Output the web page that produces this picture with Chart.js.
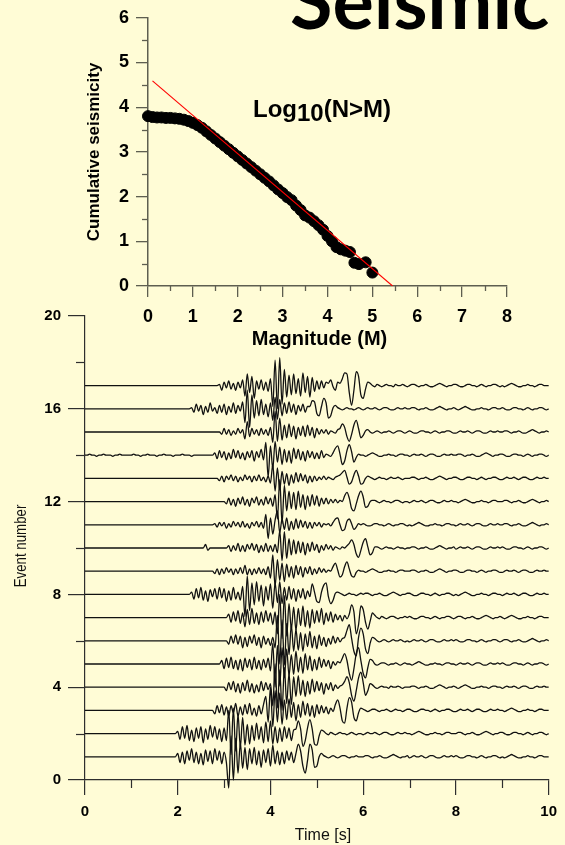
<!DOCTYPE html>
<html>
<head>
<meta charset="utf-8">
<script src="https://cdn.jsdelivr.net/npm/chart.js@4.4.0/dist/chart.umd.min.js"></script>
<style>
  html, body { margin: 0; padding: 0; width: 565px; height: 845px; overflow: hidden; background: #FFFCD6; }
  #boxTop { position: absolute; left: 0; top: 0; width: 565px; height: 360px; }
  #boxBottom { position: absolute; left: 0; top: 300px; width: 565px; height: 545px; }
  canvas { display: block; }
</style>
</head>
<body>
<div id="boxBottom"><canvas id="seis" width="565" height="545"></canvas></div>
<div id="boxTop"><canvas id="gr" width="565" height="360"></canvas></div>
<script>
// ---------- Gutenberg-Richter plot ----------
const magnitudes = [0.0,0.1,0.2,0.3,0.4,0.5,0.6,0.7,0.8,0.9,1.0,1.1,1.2,1.3,1.4,1.5,1.6,1.7,1.8,1.9,
  2.0,2.1,2.2,2.3,2.4,2.5,2.6,2.7,2.8,2.9,3.0,3.1,3.2,3.3,3.4,3.5,3.6,3.7,3.8,3.9,
  4.0,4.1,4.2,4.3,4.4,4.5,4.6,4.7,4.85,5.0];
const cumulativeLog = [3.80,3.78,3.77,3.77,3.76,3.76,3.75,3.74,3.72,3.69,3.65,3.60,3.54,3.46,3.38,3.30,3.22,3.14,3.06,2.98,
  2.90,2.82,2.74,2.66,2.58,2.50,2.42,2.34,2.25,2.16,2.08,1.99,1.92,1.80,1.70,1.58,1.53,1.45,1.36,1.26,
  1.12,1.00,0.87,0.82,0.79,0.76,0.52,0.49,0.53,0.30];
const fitMag = [0.1, 5.45];
const fitLog = [4.59, 0.0];
const grTicksX = [0,1,2,3,4,5,6,7,8];
const grTicksY = [0,1,2,3,4,5,6];
const grMinorX = [0.5,1.5,2.5,3.5,4.5,5.5,6.5,7.5];
const grMinorY = [0.5,1.5,2.5,3.5,4.5,5.5];

// ---------- Seismograms (samples every 0.05 s, amplitude unit 0.05 event) ----------
const eventNumbers = [1,2,3,4,5,6,7,8,9,10,11,12,13,14,15,16,17];
const sampleStep = 0.05;
const ampUnit = 0.05;
const seisTicksX = [0,2,4,6,8,10];
const seisTicksY = [0,4,8,12,16,20];
const seisMinorX = [1,3,5,7,9];
const seisMinorY = [2,6,10,14,18];

const trace01 = [
 0,0,0,0,0,0,0,0,0,0,0,0,0,0,0,0,0,0,0,0,
 0,0,0,0,0,0,0,0,0,0,0,0,0,0,0,0,0,0,0,0,
 3,-5,4,-6,5,-3,7,-5,4,-6,3,-7,6,-4,5,-6,7,-3,5,-6,
 4,-5,-27,18,-20,16,-14,12,-10,8,-11,7,-6,8,-7,5,-9,6,-5,7,
 -8,10,-6,5,-7,4,-6,5,-3,4,-5,3,11,5,-8,-14,-3,11,6,-9,
 -8,0,3,1,0,-1,0,1,0,-1,0,1,1,0,-1,0,0,1,0,0,
 0,1,1,0,-1,0,0,1,0,-1,-1,0,1,2,1,0,-1,0,0,1,
 -1,0,1,0,0,1,0,-1,0,1,1,0,-1,-1,0,1,0,0,1,0,
 1,0,-1,-1,0,1,1,0,0,-1,0,1,0,-1,0,0,1,1,0,-1,
 0,-1,0,1,2,1,0,-1,-1,0,0,1,0,0,-1,0,1,1,0,0,
 0];
const trace02 = [
 0,0,0,0,0,0,0,0,0,0,0,0,0,0,0,0,0,0,0,0,
 0,0,0,0,0,0,0,0,0,0,0,0,0,0,0,0,0,0,0,0,
 2,-5,6,-4,7,-6,3,-7,5,-4,6,-8,4,-5,7,-3,6,-5,4,-7,
 5,-6,20,-18,22,-15,17,-12,14,-10,8,-9,7,-6,9,-5,6,-8,10,-7,
 11,-9,6,-8,5,-7,6,-4,5,-6,3,4,11,4,-11,-6,5,12,4,-9,
 -10,-2,3,2,0,-1,1,0,-1,0,1,0,0,-1,0,1,0,-1,0,0,
 -1,0,1,0,0,1,0,-1,0,1,1,0,-1,-1,0,1,0,0,1,0,
 0,-1,0,1,2,1,0,-1,-1,0,0,1,0,0,-1,0,1,1,0,0,
 0,1,1,0,-1,0,0,1,0,-1,-1,0,1,2,1,0,-1,0,0,1,
 1,0,-1,-1,0,1,1,0,0,-1,0,1,0,-1,0,0,1,1,0,-1,
 0];
const trace03 = [
 0,0,0,0,0,0,0,0,0,0,0,0,0,0,0,0,0,0,0,0,
 0,0,0,0,0,0,0,0,0,0,0,0,0,0,0,0,0,0,0,0,
 0,0,0,0,0,0,0,0,0,0,0,0,0,0,0,0,-3,4,-2,5,
 -4,3,-5,4,-2,6,-5,3,-4,5,-3,6,-4,2,-5,4,-3,5,12,-10,
 20,-14,17,-10,15,-12,9,-8,10,-6,7,-9,5,-6,8,-4,6,-5,4,-6,
 5,-3,4,-2,3,-3,2,-1,5,9,2,-9,-11,2,11,7,-6,-9,-2,2,
 1,0,-1,0,1,1,0,-1,0,0,1,0,-1,0,1,0,0,-1,0,1,
 1,0,-1,-1,0,1,1,0,0,-1,0,1,0,-1,0,0,1,1,0,-1,
 -1,0,1,0,0,1,0,-1,0,1,1,0,-1,-1,0,1,0,0,1,0,
 0,-1,0,1,2,1,0,-1,-1,0,0,1,0,0,-1,0,1,1,0,0,
 0];
const trace04 = [
 0,0,0,0,0,0,0,0,0,0,0,0,0,0,0,0,0,0,0,0,
 0,0,0,0,0,0,0,0,0,0,0,0,0,0,0,0,0,0,0,0,
 0,0,0,0,0,0,0,0,0,0,0,0,0,0,0,0,0,0,0,0,
 0,-3,4,-2,5,-4,3,-5,4,-3,6,-4,3,-5,2,-4,5,-3,4,-2,
 3,-16,20,-18,15,-20,17,-14,12,-15,9,-8,10,-7,6,-8,5,-6,7,-4,
 5,-3,4,-6,3,-2,4,-3,2,-1,1,2,5,9,4,-7,-12,-3,8,13,
 4,-7,-3,3,2,0,-1,0,1,0,0,-1,1,0,0,1,0,-1,0,0,
 0,1,1,0,-1,0,0,1,0,-1,-1,0,1,2,1,0,-1,0,0,1,
 0,-1,0,1,2,1,0,-1,-1,0,0,1,0,0,-1,0,1,1,0,0,
 -1,0,1,0,0,1,0,-1,0,1,1,0,-1,-1,0,1,0,0,1,0,
 0];
const trace05 = [
 0,0,0,0,0,0,0,0,0,0,0,0,0,0,0,0,0,0,0,0,
 0,0,0,0,0,0,0,0,0,0,0,0,0,0,0,0,0,0,0,0,
 0,0,0,0,0,0,0,0,0,0,0,0,0,0,0,0,0,0,0,3,
 -4,5,-3,6,-4,3,-5,4,-6,5,-3,4,-5,6,-4,3,-5,4,-3,5,
 -6,18,-20,16,-19,14,-12,13,-10,8,-9,11,-7,6,-8,9,-5,7,-6,4,
 -5,6,-3,4,-2,3,-4,2,-1,2,1,5,9,3,-8,-14,-4,9,14,3,
 -8,-12,-3,4,3,0,-1,0,1,1,0,-1,0,0,1,0,-1,0,1,0,
 0,-1,0,1,2,1,0,-1,-1,0,0,1,0,0,-1,0,1,1,0,0,
 -1,0,1,0,0,1,0,-1,0,1,1,0,-1,-1,0,1,0,0,1,0,
 1,0,-1,-1,0,1,1,0,0,-1,0,1,0,-1,0,0,1,1,0,-1,
 0];
const trace06 = [
 0,0,0,0,0,0,0,0,0,0,0,0,0,0,0,0,0,0,0,0,
 0,0,0,0,0,0,0,0,0,0,0,0,0,0,0,0,0,0,0,0,
 0,0,0,0,0,0,0,0,0,0,0,0,0,0,0,0,0,0,0,0,
 0,0,-3,4,-2,5,-3,4,-6,3,-5,4,-2,5,-4,3,-6,4,-3,2,
 -4,3,-6,22,-20,18,-21,15,-12,14,-9,10,-8,7,-9,6,-5,8,-6,4,
 -7,5,-4,3,-5,2,-3,4,-2,3,-1,2,3,9,14,2,-9,-13,3,11,
 6,-7,-11,-2,3,2,0,-1,0,1,0,-1,0,1,0,0,1,0,-1,0,
 -1,0,1,0,0,1,0,-1,0,1,1,0,-1,-1,0,1,0,0,1,0,
 1,0,-1,-1,0,1,1,0,0,-1,0,1,0,-1,0,0,1,1,0,-1,
 0,1,1,0,-1,0,0,1,0,-1,-1,0,1,2,1,0,-1,0,0,1,
 0];
const trace07 = [
 0,0,0,0,0,0,0,0,0,0,0,0,0,0,0,0,0,0,0,0,
 0,0,0,0,0,0,0,0,0,0,0,0,0,0,0,0,0,0,0,0,
 0,0,0,0,0,0,0,0,0,0,0,0,0,0,0,0,0,0,0,0,
 0,0,3,-4,5,-3,6,-5,4,-8,7,-6,8,-5,4,-6,5,-4,6,-3,
 4,-6,5,-14,20,-18,19,-16,12,-10,9,-11,8,-7,10,-8,6,-9,7,-5,
 6,-4,8,-6,4,-3,5,-4,3,-2,2,-3,2,-1,3,11,5,-14,-6,10,
 7,-4,-10,-3,4,2,0,-1,1,0,-1,0,1,1,0,-1,0,0,1,0,
 1,0,-1,-1,0,1,1,0,0,-1,0,1,0,-1,0,0,1,1,0,-1,
 0,1,1,0,-1,0,0,1,0,-1,-1,0,1,2,1,0,-1,0,0,1,
 0,-1,0,1,2,1,0,-1,-1,0,0,1,0,0,-1,0,1,1,0,0,
 0];
const trace08 = [
 0,0,0,0,0,0,0,0,0,0,0,0,0,0,0,0,0,0,0,0,
 0,0,0,0,0,0,0,0,0,0,0,0,0,0,0,0,0,0,0,0,
 0,0,0,0,0,0,2,-4,5,-3,6,-5,3,-6,4,-2,5,-4,6,-3,
 5,-6,3,-5,6,-4,2,-5,7,-19,16,-14,10,-9,11,-6,8,-10,7,-5,
 9,-12,10,-7,11,-8,6,-5,7,-4,5,-6,4,-3,5,-4,3,-2,9,2,
 -6,-7,2,8,10,-2,-8,-5,1,2,1,0,-1,0,1,0,0,-1,0,1,
 0,1,1,0,-1,0,0,1,0,-1,-1,0,1,2,1,0,-1,0,0,1,
 1,0,-1,-1,0,1,1,0,0,-1,0,1,0,-1,0,0,1,1,0,-1,
 0,-1,0,1,2,1,0,-1,-1,0,0,1,0,0,-1,0,1,1,0,0,
 -1,0,1,0,0,1,0,-1,0,1,1,0,-1,-1,0,1,0,0,1,0,
 0];
const trace09 = [
 0,0,0,0,0,0,0,0,0,0,0,0,0,0,0,0,0,0,0,0,
 0,0,0,0,0,0,0,0,0,0,0,0,0,0,0,0,0,0,0,0,
 0,0,0,0,0,0,0,0,0,0,0,0,0,0,0,0,-2,2,-3,2,
 -2,3,-1,2,-3,2,-2,3,-2,5,-3,2,-3,2,-2,3,-2,2,-3,4,
 -6,14,-13,10,-8,7,-9,6,-5,4,-6,5,-3,4,-5,3,-2,4,-3,2,
 -2,3,-1,2,-1,1,0,4,7,1,-5,-3,4,8,2,-4,-5,-1,1,0,
 0,-1,0,1,2,1,0,-1,-1,0,0,1,0,0,-1,0,1,1,0,0,
 0,1,1,0,-1,0,0,1,0,-1,-1,0,1,2,1,0,-1,0,0,1,
 1,0,-1,-1,0,1,1,0,0,-1,0,1,0,-1,0,0,1,1,0,-1,
 -1,0,1,0,0,1,0,-1,0,1,1,0,-1,-1,0,1,0,0,1,0,
 0];
const trace10 = [
 0,0,0,0,0,0,0,0,0,0,0,0,0,0,0,0,0,0,0,0,
 0,0,0,0,0,0,0,0,0,0,0,0,0,0,0,0,0,0,0,0,
 0,0,0,0,0,0,0,0,0,0,0,0,3,-2,0,0,0,0,0,0,
 0,0,2,-3,2,-2,4,-3,2,-3,3,-1,4,-2,3,-4,2,-3,4,-3,
 2,-3,3,-4,15,-11,14,-9,8,-6,7,-5,6,-4,5,-6,4,-3,5,-2,
 3,-4,2,-2,3,-1,2,-2,1,0,-1,1,0,2,4,7,3,-5,-8,-2,
 5,8,1,-6,-4,1,1,0,-1,0,1,0,0,-1,0,1,0,0,-1,0,
 0,1,1,0,-1,0,0,1,0,-1,-1,0,1,2,1,0,-1,0,0,1,
 -1,0,1,0,0,1,0,-1,0,1,1,0,-1,-1,0,1,0,0,1,0,
 1,0,-1,-1,0,1,1,0,0,-1,0,1,0,-1,0,0,1,1,0,-1,
 0];
const trace11 = [
 0,0,0,0,0,0,0,0,0,0,0,0,0,0,0,0,0,0,0,0,
 0,0,0,0,0,0,0,0,0,0,0,0,0,0,0,0,0,0,0,0,
 0,0,0,0,0,0,0,0,0,0,0,0,0,0,0,0,1,-2,2,-1,
 2,-3,1,-2,3,-1,2,-2,3,-2,1,-3,2,-1,3,-2,2,-3,9,-12,
 6,-8,4,12,-7,5,-4,6,-5,3,-4,5,-3,4,-2,3,-3,2,-3,2,
 -1,2,-2,1,0,1,-1,2,5,6,0,-5,-4,3,5,1,-4,-2,1,0,
 1,0,-1,-1,0,1,1,0,0,-1,0,1,0,-1,0,0,1,1,0,-1,
 0,-1,0,1,2,1,0,-1,-1,0,0,1,0,0,-1,0,1,1,0,0,
 -1,0,1,0,0,1,0,-1,0,1,1,0,-1,-1,0,1,0,0,1,0,
 0,1,1,0,-1,0,0,1,0,-1,-1,0,1,2,1,0,-1,0,0,1,
 0];
const trace12 = [
 0,0,0,0,0,0,0,0,0,0,0,0,0,0,0,0,0,0,0,0,
 0,0,0,0,0,0,0,0,0,0,0,0,0,0,0,0,0,0,0,0,
 0,0,0,0,0,0,0,0,0,0,0,0,0,0,0,0,0,0,0,0,
 0,-2,3,-3,2,-4,3,-2,4,-3,2,-4,3,-1,4,-3,2,-3,4,-2,
 3,-4,6,-15,19,-19,14,-8,9,-6,8,-7,9,-5,6,-7,5,-4,6,-3,
 5,-4,3,-2,3,-2,2,-1,2,-1,1,0,5,8,3,-6,-8,-2,5,9,
 4,-5,-4,0,1,1,0,-1,0,1,0,0,-1,0,1,1,0,-1,0,0,
 -1,0,1,0,0,1,0,-1,0,1,1,0,-1,-1,0,1,0,0,1,0,
 0,-1,0,1,2,1,0,-1,-1,0,0,1,0,0,-1,0,1,1,0,0,
 0,1,1,0,-1,0,0,1,0,-1,-1,0,1,2,1,0,-1,0,0,1,
 0];
const trace13 = [
 0,0,0,0,0,0,0,0,0,0,0,0,0,0,0,0,0,0,0,0,
 0,0,0,0,0,0,0,0,0,0,0,0,0,0,0,0,0,0,0,0,
 0,0,0,0,0,0,0,0,0,0,0,0,0,0,0,0,0,0,-2,2,
 -3,2,-1,3,-2,2,-3,1,-2,3,-1,2,-3,2,-2,3,-2,1,-3,2,
 -4,12,-11,9,-10,6,-5,4,-6,3,-4,5,-3,4,-2,3,-4,2,-3,2,
 -2,1,-1,2,-1,1,0,-1,1,2,3,5,7,1,-5,-3,3,7,2,-5,
 -4,0,2,1,0,-1,0,1,0,0,-1,0,1,0,0,1,0,-1,0,0,
 0,1,1,0,-1,0,0,1,0,-1,-1,0,1,2,1,0,-1,0,0,1,
 1,0,-1,-1,0,1,1,0,0,-1,0,1,0,-1,0,0,1,1,0,-1,
 -1,0,1,0,0,1,0,-1,0,1,1,0,-1,-1,0,1,0,0,1,0,
 0];
const trace14 = [
 0,0,1,0,0,-1,0,0,1,0,0,0,-1,0,0,1,0,0,0,0,
 0,1,0,0,-1,0,0,1,0,0,0,-1,0,0,1,0,0,0,-1,0,
 0,0,1,0,0,0,-1,0,0,0,0,0,0,0,0,0,2,-3,4,-2,
 3,-4,2,-3,5,-2,4,-3,2,-4,3,-2,4,-5,3,-2,5,-4,11,-19,
 8,-12,12,-6,7,-8,5,-6,4,-7,6,-3,5,-4,3,-5,4,-2,3,-3,
 2,-3,4,-2,1,0,-1,2,6,8,1,-8,-5,4,9,3,-6,-2,1,0,
 0,-1,0,1,2,1,0,-1,-1,0,0,1,0,0,-1,0,1,1,0,0,
 -1,0,1,0,0,1,0,-1,0,1,1,0,-1,-1,0,1,0,0,1,0,
 0,1,1,0,-1,0,0,1,0,-1,-1,0,1,2,1,0,-1,0,0,1,
 1,0,-1,-1,0,1,1,0,0,-1,0,1,0,-1,0,0,1,1,0,-1,
 0];
const trace15 = [
 0,0,0,0,0,0,0,0,0,0,0,0,0,0,0,0,0,0,0,0,
 0,0,0,0,0,0,0,0,0,0,0,0,0,0,0,0,0,0,0,0,
 0,0,0,0,0,0,0,0,0,0,0,0,0,0,0,0,0,0,0,-2,
 3,-2,2,-3,1,-2,3,-1,2,-6,9,-4,3,-2,2,-3,3,-2,2,-3,
 4,-9,18,-8,12,-7,6,-5,7,-4,5,-6,4,-3,5,-4,6,-3,4,-5,
 3,-2,2,-1,2,-2,1,0,-1,2,3,7,4,-4,-8,-2,6,10,3,-5,
 -3,1,2,0,-1,0,1,0,-1,0,0,1,0,-1,0,1,1,0,-1,0,
 1,0,-1,-1,0,1,1,0,0,-1,0,1,0,-1,0,0,1,1,0,-1,
 -1,0,1,0,0,1,0,-1,0,1,1,0,-1,-1,0,1,0,0,1,0,
 0,1,1,0,-1,0,0,1,0,-1,-1,0,1,2,1,0,-1,0,0,1,
 0];
const trace16 = [
 0,0,0,0,0,0,0,0,0,0,0,0,0,0,0,0,0,0,0,0,
 0,0,0,0,0,0,0,0,0,0,0,0,0,0,0,0,0,0,0,0,
 0,0,0,0,0,0,1,-3,4,-2,3,-5,2,-3,5,-2,1,-4,3,-3,
 4,-5,2,-3,5,-4,3,-2,6,-12,16,-16,12,-8,7,-6,8,-5,4,-7,
 5,-10,10,-9,8,-6,5,-4,6,-3,4,-5,3,-2,4,-3,2,2,7,6,
 -4,-6,2,9,5,-8,-6,1,3,1,0,-1,0,1,0,0,-1,0,1,0,
 -1,0,1,0,0,1,0,-1,0,1,1,0,-1,-1,0,1,0,0,1,0,
 0,1,1,0,-1,0,0,1,0,-1,-1,0,1,2,1,0,-1,0,0,1,
 0,-1,0,1,2,1,0,-1,-1,0,0,1,0,0,-1,0,1,1,0,0,
 1,0,-1,-1,0,1,1,0,0,-1,0,1,0,-1,0,0,1,1,0,-1,
 0];
const trace17 = [
 0,0,0,0,0,0,0,0,0,0,0,0,0,0,0,0,0,0,0,0,
 0,0,0,0,0,0,0,0,0,0,0,0,0,0,0,0,0,0,0,0,
 0,0,0,0,0,0,0,0,0,0,0,0,0,0,0,0,0,0,1,-4,
 3,-2,4,-3,2,-4,3,-2,5,-9,10,-6,8,-11,4,-3,5,-4,3,-5,
 6,-18,22,-20,24,-16,14,-10,9,-8,10,-7,6,-9,11,-6,8,-10,7,-5,
 4,-3,4,-2,3,2,5,-1,-4,3,2,6,11,10,-6,-17,-4,12,8,-8,
 -11,-3,3,2,0,-1,1,0,-1,0,1,0,0,-1,1,0,0,1,0,-1,
 0,1,1,0,-1,0,0,1,0,-1,-1,0,1,2,1,0,-1,0,0,1,
 1,0,-1,-1,0,1,1,0,0,-1,0,1,0,-1,0,0,1,1,0,-1,
 0,-1,0,1,2,1,0,-1,-1,0,0,1,0,0,-1,0,1,1,0,0,
 0];
const traces = [trace01,trace02,trace03,trace04,trace05,trace06,trace07,trace08,trace09,
  trace10,trace11,trace12,trace13,trace14,trace15,trace16,trace17];

// ---------- shared styling ----------
const FONT = '"Liberation Sans", Arial, Helvetica, sans-serif';
Chart.defaults.font.family = FONT;
Chart.defaults.color = '#000';
const axisTop = '#5e5e50';
const axisBottom = '#2e2e2e';

function strokeSeg(ctx, x1, y1, x2, y2) {
  ctx.beginPath(); ctx.moveTo(x1, y1); ctx.lineTo(x2, y2); ctx.stroke();
}

// Decorations for the magnitude plot: minor ticks, titles, annotation
const grDecor = {
  id: 'grDecor',
  afterDraw(chart) {
    const { ctx, scales: { x, y } } = chart;
    ctx.save();
    ctx.strokeStyle = axisTop;
    ctx.lineWidth = 1.3;
    grMinorX.forEach(v => {
      const px = Math.round(x.getPixelForValue(v)) + 0.5;
      strokeSeg(ctx, px, y.bottom, px, y.bottom + 5);
    });
    grMinorY.forEach(v => {
      const py = Math.round(y.getPixelForValue(v)) + 0.5;
      strokeSeg(ctx, x.left - 6, py, x.left, py);
    });

    ctx.fillStyle = '#000';
    // axis titles
    ctx.font = 'bold 20px ' + FONT;
    ctx.textAlign = 'center';
    ctx.textBaseline = 'alphabetic';
    ctx.fillText('Magnitude (M)', (x.left + x.right) / 2 - 8, 345);

    ctx.save();
    ctx.translate(94, (y.top + y.bottom) / 2);
    ctx.rotate(-Math.PI / 2);
    ctx.font = 'bold 17px ' + FONT;
    ctx.textBaseline = 'middle';
    ctx.fillText('Cumulative seismicity', 0, 0);
    ctx.restore();

    // Log10(N>M) annotation with lowered "10"
    ctx.font = 'bold 24px ' + FONT;
    ctx.textAlign = 'left';
    let cx = 253;
    ctx.fillText('Log', cx, 117);
    cx += ctx.measureText('Log').width;
    ctx.fillText('10', cx, 121);
    cx += ctx.measureText('10').width;
    ctx.fillText('(N>M)', cx, 117);

    // large heading at the top right
    ctx.font = '700 100px Lato, "Open Sans", sans-serif';
    const m = ctx.measureText('Seismic');
    const ink = m.actualBoundingBoxLeft + m.actualBoundingBoxRight;
    const size = 100 * 257 / ink;
    ctx.font = `700 ${size}px Lato, "Open Sans", sans-serif`;
    const m2 = ctx.measureText('Seismic');
    ctx.fillText('Seismic', 291 + m2.actualBoundingBoxLeft, 29);
    ctx.restore();
  }
};

new Chart(document.getElementById('gr'), {
  type: 'scatter',
  data: {
    datasets: [
      {
        type: 'line',
        label: 'fit',
        data: fitMag.map((m, i) => ({ x: m, y: fitLog[i] })),
        borderColor: '#ff0000',
        borderWidth: 1.1,
        pointRadius: 0,
        order: 0
      },
      {
        label: 'Log10(N>M)',
        data: magnitudes.map((m, i) => ({ x: m, y: cumulativeLog[i] })),
        backgroundColor: '#000',
        borderColor: '#000',
        borderWidth: 1,
        pointRadius: 5.5,
        clip: false,
        order: 1
      }
    ]
  },
  options: {
    responsive: false,
    animation: false,
    events: [],
    layout: { padding: { left: 0, right: 58, top: 16, bottom: 0 } },
    plugins: { legend: { display: false }, tooltip: { enabled: false } },
    scales: {
      x: {
        type: 'linear', min: 0, max: 8,
        afterBuildTicks: s => { s.ticks = grTicksX.map(v => ({ value: v })); },
        afterFit: s => { s.height = 74; },
        ticks: { font: { size: 18, weight: 'bold' }, color: '#000', padding: 9, maxRotation: 0 },
        grid: { drawOnChartArea: false, drawTicks: true, tickLength: 11, color: axisTop, lineWidth: 1.3 },
        border: { display: true, color: axisTop, width: 1.5 }
      },
      y: {
        type: 'linear', min: 0, max: 6,
        afterBuildTicks: s => { s.ticks = grTicksY.map(v => ({ value: v })); },
        afterFit: s => { s.width = 148; },
        ticks: { font: { size: 18, weight: 'bold' }, color: '#000', padding: 7 },
        grid: { drawOnChartArea: false, drawTicks: true, tickLength: 12, color: axisTop, lineWidth: 1.3 },
        border: { display: true, color: axisTop, width: 1.5 }
      }
    }
  },
  plugins: [grDecor]
});

// Decorations for the seismogram panel: minor ticks and axis titles
const seisDecor = {
  id: 'seisDecor',
  afterDraw(chart) {
    const { ctx, scales: { x, y } } = chart;
    ctx.save();
    ctx.strokeStyle = axisBottom;
    ctx.lineWidth = 1.2;
    seisMinorX.forEach(v => {
      const px = Math.round(x.getPixelForValue(v)) + 0.5;
      strokeSeg(ctx, px, y.bottom, px, y.bottom + 8);
    });
    seisMinorY.forEach(v => {
      const py = Math.round(y.getPixelForValue(v)) + 0.5;
      strokeSeg(ctx, x.left - 9, py, x.left, py);
    });

    ctx.fillStyle = '#111';
    ctx.textAlign = 'center';
    ctx.textBaseline = 'alphabetic';
    ctx.font = '16px ' + FONT;
    ctx.fillText('Time [s]', 323, 540);

    ctx.save();
    ctx.translate(26, 246);
    ctx.rotate(-Math.PI / 2);
    ctx.scale(0.83, 1);
    ctx.font = '16px ' + FONT;
    ctx.fillText('Event number', 0, 0);
    ctx.restore();
    ctx.restore();
  }
};

new Chart(document.getElementById('seis'), {
  type: 'line',
  data: {
    datasets: traces.map((tr, k) => ({
      label: 'Event ' + eventNumbers[k],
      data: tr.map((v, i) => ({ x: i * sampleStep, y: eventNumbers[k] + v * ampUnit })),
      borderColor: '#111',
      borderWidth: 1.3,
      pointRadius: 0,
      cubicInterpolationMode: 'monotone',
      clip: false
    }))
  },
  options: {
    responsive: false,
    animation: false,
    events: [],
    layout: { padding: { left: 0, right: 15, top: 15, bottom: 0 } },
    plugins: { legend: { display: false }, tooltip: { enabled: false } },
    scales: {
      x: {
        type: 'linear', min: 0, max: 10,
        afterBuildTicks: s => { s.ticks = seisTicksX.map(v => ({ value: v })); },
        afterFit: s => { s.height = 65; },
        ticks: { font: { size: 15, weight: 'bold' }, color: '#000', padding: 8, maxRotation: 0 },
        grid: { drawOnChartArea: false, drawTicks: true, tickLength: 15, color: axisBottom, lineWidth: 1.2 },
        border: { display: true, color: axisBottom, width: 1.2 }
      },
      y: {
        type: 'linear', min: 0, max: 20,
        afterBuildTicks: s => { s.ticks = seisTicksY.map(v => ({ value: v })); },
        afterFit: s => { s.width = 85; },
        ticks: { font: { size: 15, weight: 'bold' }, color: '#000', padding: 7 },
        grid: { drawOnChartArea: false, drawTicks: true, tickLength: 17, color: axisBottom, lineWidth: 1.2 },
        border: { display: true, color: axisBottom, width: 1.2 }
      }
    }
  },
  plugins: [seisDecor]
});
</script>
</body>
</html>
